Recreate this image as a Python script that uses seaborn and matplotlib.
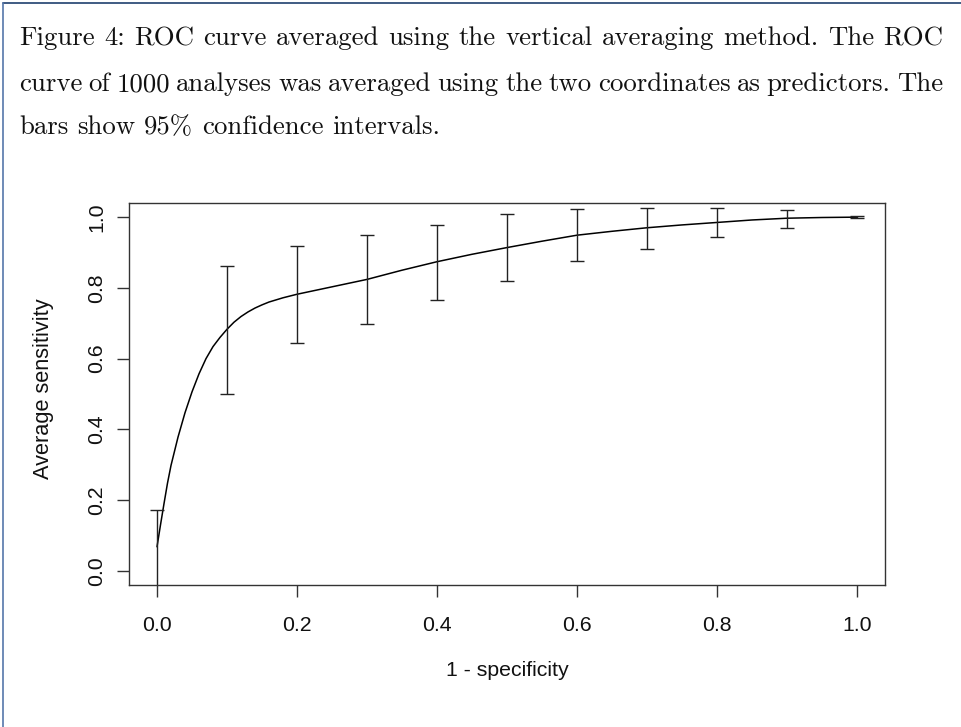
import matplotlib
matplotlib.use("Agg")
import matplotlib.pyplot as plt
from matplotlib.lines import Line2D
import seaborn as sns
import pandas as pd

# ---------------- data ----------------
curve_x = [0.0, 0.005, 0.010, 0.015, 0.020, 0.030, 0.040, 0.050, 0.060, 0.070,
           0.080, 0.090, 0.100, 0.110, 0.120, 0.130, 0.140, 0.150, 0.160, 0.180,
           0.200, 0.250, 0.300, 0.350, 0.400, 0.450, 0.500, 0.550, 0.600, 0.650,
           0.700, 0.750, 0.800, 0.850, 0.900, 0.950, 1.000]
curve_y = [0.068, 0.130, 0.190, 0.248, 0.298, 0.378, 0.447, 0.506, 0.557, 0.600,
           0.634, 0.660, 0.683, 0.703, 0.719, 0.732, 0.743, 0.752, 0.760, 0.772,
           0.782, 0.803, 0.824, 0.850, 0.874, 0.895, 0.914, 0.932, 0.949, 0.960,
           0.970, 0.978, 0.985, 0.992, 0.997, 0.999, 1.000]

bar_x = [0.0, 0.1, 0.2, 0.3, 0.4, 0.5, 0.6, 0.7, 0.8, 0.9, 1.0]
bar_lo = [-0.06, 0.500, 0.643, 0.698, 0.765, 0.819, 0.875, 0.911, 0.943, 0.970, 0.997]
bar_hi = [0.172, 0.862, 0.919, 0.950, 0.979, 1.008, 1.024, 1.027, 1.027, 1.021, 1.002]

x_ticks = [0.0, 0.2, 0.4, 0.6, 0.8, 1.0]
y_ticks = [0.0, 0.2, 0.4, 0.6, 0.8, 1.0]
x_label = "1 - specificity"
y_label = "Average sensitivity"
caption_lines = [
    "Figure 4: ROC curve averaged using the vertical averaging method. The ROC",
    "curve of 1000 analyses was averaged using the two coordinates as predictors. The",
    "bars show 95% confidence intervals.",
]

# ---------------- figure ----------------
sns.set_style("white")
plt.rcParams["font.family"] = ["Liberation Sans", "DejaVu Sans"]

W, H = 962, 727
fig = plt.figure(figsize=(W / 100, H / 100), dpi=100)
ax = fig.add_axes([129 / W, 1 - 585 / H, (885 - 129) / W, (585 - 203) / H])

df = pd.DataFrame({"x": curve_x, "y": curve_y})
sns.lineplot(data=df, x="x", y="y", ax=ax, color="black", lw=1.1,
             sort=False, estimator=None)

mid = [(l + h) / 2 for l, h in zip(bar_lo, bar_hi)]
half = [(h - l) / 2 for l, h in zip(bar_lo, bar_hi)]
ax.errorbar(bar_x, mid, yerr=half, fmt="none", ecolor="#222222",
            elinewidth=1.0, capsize=4.8, capthick=1.0)

ax.set_xlim(-0.04, 1.04)
ax.set_ylim(-0.04, 1.04)
ax.set_xticks(x_ticks)
ax.set_yticks(y_ticks)
ax.set_xticklabels([f"{v:.1f}" for v in x_ticks])
ax.set_yticklabels([f"{v:.1f}" for v in y_ticks])

for s in ax.spines.values():
    s.set_visible(True)
    s.set_color("#333333")
    s.set_linewidth(1.0)

lab_fs = 15.3
ax.tick_params(axis="both", direction="out", length=8.6, width=1.0,
               color="#333333", labelsize=lab_fs, labelcolor="#111111",
               bottom=True, left=True, top=False, right=False)
ax.tick_params(axis="x", pad=14)
ax.tick_params(axis="y", pad=8, labelrotation=90)
for t in ax.get_yticklabels():
    t.set_va("center")

ax.set_xlabel(x_label, fontsize=lab_fs, color="#111111", va="center")
ax.set_ylabel(y_label, fontsize=lab_fs + 0.4, color="#111111", va="center")
ax.xaxis.set_label_coords(0.5, (585 - 671) / (585 - 203))
ax.yaxis.set_label_coords((43 - 129) / (885 - 129), (585 - 389) / (585 - 203))

# ---------------- caption (justified, serif) ----------------
renderer = fig.canvas.get_renderer()
cap_family = "cmr10"
x0, x1 = 19, 943
baselines = [45, 91, 134]

# fit font size so that line 1 with natural spacing fills the text width
probe_fs = 15.0
probe = fig.text(0, 0, caption_lines[0], fontsize=probe_fs, family=cap_family)
nat_w = probe.get_window_extent(renderer).width
probe.remove()
cap_fs = probe_fs * (x1 - x0) / nat_w

sp = fig.text(0, 0, "a a", fontsize=cap_fs, family=cap_family)
sa = fig.text(0, 0, "aa", fontsize=cap_fs, family=cap_family)
nat_gap = sp.get_window_extent(renderer).width - sa.get_window_extent(renderer).width
sp.remove(); sa.remove()

for i, line in enumerate(caption_lines):
    words = line.split(" ")
    texts = [fig.text(0, 0, w, fontsize=cap_fs, family=cap_family,
                      va="baseline", ha="left", color="#111111") for w in words]
    widths = [t.get_window_extent(renderer).width for t in texts]
    if i < len(caption_lines) - 1:
        gap = (x1 - x0 - sum(widths)) / (len(words) - 1)
    else:
        gap = nat_gap
    x = x0
    for t, w in zip(texts, widths):
        t.set_position((x / W, 1 - baselines[i] / H))
        x += w + gap

# ---------------- page frame ----------------
fig.add_artist(Line2D([2.5 / W, 1.0], [1 - 2.5 / H, 1 - 2.5 / H],
                      transform=fig.transFigure, color="#1f3f6e", lw=1.2))
fig.add_artist(Line2D([2.5 / W, 2.5 / W], [0.0, 1 - 2.5 / H],
                      transform=fig.transFigure, color="#5577aa", lw=1.2))

fig.savefig("out.png", dpi=100)
